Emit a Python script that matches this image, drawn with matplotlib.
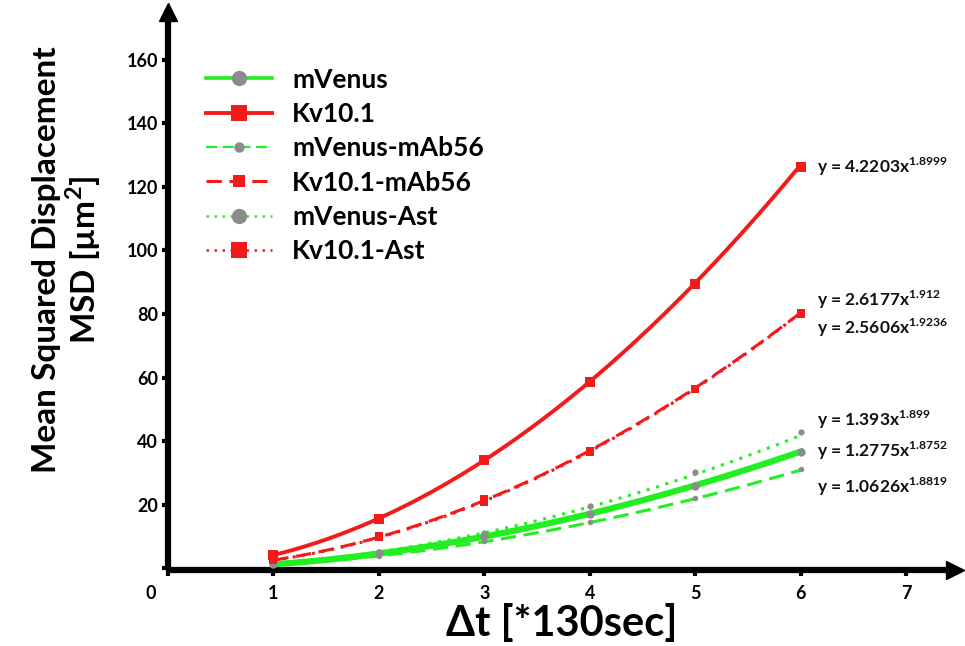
import numpy as np
import matplotlib
matplotlib.use("Agg")
from matplotlib import pyplot as plt
from matplotlib.lines import Line2D
from matplotlib.transforms import ScaledTranslation

plt.rcParams['font.family'] = ['Lato', 'DejaVu Sans']
plt.rcParams['font.weight'] = 'bold'
plt.rcParams['mathtext.fontset'] = 'custom'
plt.rcParams['mathtext.rm'] = 'Lato:bold'
plt.rcParams['mathtext.bf'] = 'Lato:bold'

# time lags (*130 sec)
dt = [1, 2, 3, 4, 5, 6]

series_names = ['mVenus', 'Kv10.1', 'mVenus-mAb56', 'Kv10.1-mAb56', 'mVenus-Ast', 'Kv10.1-Ast']
msd_mvenus = [1.3, 4.7, 10.2, 17.2, 26.0, 36.7]
msd_kv = [4.3, 15.7, 34.0, 58.6, 89.4, 126.3]
msd_mvenus_mab = [1.0, 4.0, 8.6, 14.6, 22.0, 31.2]
msd_kv_mab = [2.9, 10.2, 21.8, 36.8, 56.3, 80.2]
msd_mvenus_ast = [1.4, 5.2, 11.3, 19.6, 30.2, 42.8]
msd_kv_ast = [2.6, 9.8, 21.0, 36.5, 56.5, 80.0]

# power-law trendlines as printed on the chart: y = a * x^b
fit_a = [1.2775, 4.2203, 1.0626, 2.6177, 1.393, 2.5606]
fit_b = [1.8752, 1.8999, 1.8819, 1.912, 1.899, 1.9236]
fit_a_txt = ['1.2775', '4.2203', '1.0626', '2.6177', '1.393', '2.5606']
fit_b_txt = ['1.8752', '1.8999', '1.8819', '1.912', '1.899', '1.9236']

GREEN = '#22ee22'
RED = '#f51a1a'
GRAY = '#8c8c8c'

all_y = [msd_mvenus, msd_kv, msd_mvenus_mab, msd_kv_mab, msd_mvenus_ast, msd_kv_ast]
colors = [GREEN, RED, GREEN, RED, GREEN, RED]
styles = ['-', '-', (0, (5, 2.5)), (0, (5, 2.5)), (0, (1, 2.2)), (0, (1, 2.2))]
widths = [4.5, 2.8, 2.2, 2.2, 2.2, 2.2]
leg_widths = [2.6, 2.8, 1.6, 2.2, 1.8, 1.8]
mk = ['o', 's', 'o', 's', 'o', 's']
mk_col = [GRAY, RED, GRAY, RED, GRAY, RED]
mk_size = [6, 6.5, 4, 6, 4.5, 5.5]
leg_size = [11, 12, 7.5, 9, 11, 12]

# label y position (data units) for each equation
eq_y = [37.0, 126.3, 25.7, 84.4, 46.7, 75.7]

fig = plt.figure(figsize=(9.65, 6.46), dpi=100)
ax = fig.add_axes([0.174, 0.1176, 0.8155, 0.864])

xs = np.linspace(1, 6, 200)
handles = []
for i in range(6):
    ax.plot(xs, fit_a[i] * xs ** fit_b[i], color=colors[i], linestyle=styles[i],
            linewidth=widths[i], zorder=3)
    ax.plot(dt, all_y[i], linestyle='none', marker=mk[i], color=mk_col[i],
            markersize=mk_size[i], markeredgewidth=0, zorder=4)
    handles.append(Line2D([0], [0], color=colors[i], linestyle=styles[i],
                          linewidth=leg_widths[i], marker=mk[i],
                          markerfacecolor=mk_col[i], markeredgewidth=0,
                          markersize=leg_size[i]))
    ax.text(6.15, eq_y[i], 'y = ' + fit_a_txt[i] + 'x$^{' + fit_b_txt[i] + '}$',
            fontsize=12.5, fontweight='bold', va='center', ha='left', color='#111111')

ax.set_xlim(0, 7.46)
ax.set_ylim(-0.5, 175)

for s in ['top', 'right']:
    ax.spines[s].set_visible(False)
for s in ['left', 'bottom']:
    ax.spines[s].set_linewidth(4.5)
    ax.spines[s].set_capstyle('butt')
# arrow heads
ax.plot(0, 1, marker='^', markersize=13, color='black', transform=ax.transAxes, clip_on=False)
ax.plot(1, 0, marker='>', markersize=13, color='black', transform=ax.transAxes, clip_on=False)

ax.set_yticks([0, 20, 40, 60, 80, 100, 120, 140, 160])
ax.set_yticklabels(['', '20', '40', '60', '80', '100', '120', '140', '160'])
ax.set_xticks([0, 1, 2, 3, 4, 5, 6, 7])
ax.set_xticklabels(['0', '1', '2', '3', '4', '5', '6', '7'])
ax.tick_params(axis='both', length=4, width=3, labelsize=13, colors='black')
ax.tick_params(axis='x', pad=7)
ax.tick_params(axis='y', pad=3)
for lab in ax.get_xticklabels() + ax.get_yticklabels():
    lab.set_fontweight('bold')
zero = ax.xaxis.get_major_ticks()[0].label1
zero.set_transform(zero.get_transform() + ScaledTranslation(-0.17, 0, fig.dpi_scale_trans))

ax.set_ylabel('Mean Squared Displacement\nMSD [µm$^{2}$]', fontsize=24, fontweight='bold',
              linespacing=1.05)
ax.yaxis.set_label_coords(-0.083, 0.556)
ax.set_xlabel('Δt [*130sec]', fontsize=30, fontweight='bold', labelpad=1)

ax.legend(handles, series_names, loc='upper left', bbox_to_anchor=(0.049, 0.9),
          frameon=False, handlelength=2.5, handletextpad=0.75,
          labelspacing=0.39, borderpad=0, borderaxespad=0, prop={'weight': 'bold', 'size': 19})

fig.savefig('out.png', dpi=100)
